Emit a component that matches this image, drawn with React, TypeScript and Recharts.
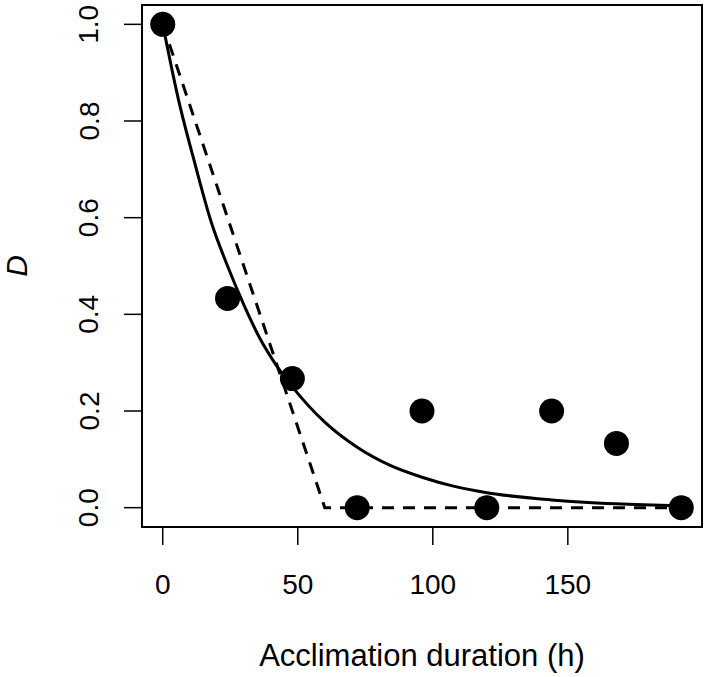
import React from "react";
import {
  ComposedChart,
  Line,
  Scatter,
  XAxis,
  YAxis,
  ReferenceArea,
} from "recharts";

// Observed data
const hours = [0, 24, 48, 72, 96, 120, 144, 168, 192];
const dValues = [1.0, 0.433, 0.267, 0, 0.2, 0, 0.2, 0.133, 0];

// Solid fitted curve
const curveHours = [0, 6, 12, 18, 24, 30, 36, 42, 48, 60, 72, 84, 96, 108, 120, 144, 168, 192];
const curveValues = [1.0, 0.84, 0.71, 0.59, 0.5, 0.42, 0.35, 0.295, 0.25, 0.177, 0.125, 0.088, 0.063, 0.044, 0.031, 0.016, 0.008, 0.004];

// Dashed fitted line
const dashHours = [0, 60, 192];
const dashValues = [1.0, 0, 0];

const xTicks = [0, 50, 100, 150];
const yTicks = [0, 0.2, 0.4, 0.6, 0.8, 1.0];

const xTitle = "Acclimation duration (h)";
const yTitle = "D";

const xDomain = [-7.68, 199.68];
const yDomain = [-0.04, 1.04];

const points = hours.map((h, i) => ({ x: h, y: dValues[i] }));
const curve = curveHours.map((h, i) => ({ x: h, y: curveValues[i] }));
const dash = dashHours.map((h, i) => ({ x: h, y: dashValues[i] }));

const FONT = "'Liberation Sans', Arial, sans-serif";

const XTick = (props: any) => {
  const { x, y, payload } = props;
  return (
    <text
      x={x}
      y={y + 37}
      textAnchor="middle"
      dominantBaseline="central"
      fontSize={28}
      fontFamily={FONT}
      fill="#000"
    >
      {payload.value}
    </text>
  );
};

const YTick = (props: any) => {
  const { x, y, payload } = props;
  const cx = x - 33;
  return (
    <text
      x={cx}
      y={y}
      transform={`rotate(-90, ${cx}, ${y})`}
      textAnchor="middle"
      dominantBaseline="central"
      fontSize={28}
      fontFamily={FONT}
      fill="#000"
    >
      {Number(payload.value).toFixed(1)}
    </text>
  );
};

const XTitle = (props: any) => {
  const vb = props.viewBox || {};
  const cx = vb.x + vb.width / 2;
  const by = vb.y + 139;
  return (
    <text
      x={cx}
      y={by}
      textAnchor="middle"
      fontSize={31}
      fontFamily={FONT}
      fill="#000"
    >
      {xTitle}
    </text>
  );
};

const YTitle = (props: any) => {
  const vb = props.viewBox || {};
  const cx = vb.x + 16;
  const cy = vb.y + vb.height / 2;
  return (
    <text
      x={cx}
      y={cy}
      transform={`rotate(-90, ${cx}, ${cy})`}
      textAnchor="middle"
      dominantBaseline="central"
      fontSize={30}
      fontStyle="italic"
      fontFamily={FONT}
      fill="#000"
    >
      {yTitle}
    </text>
  );
};

const Dot = (props: any) => (
  <circle cx={props.cx} cy={props.cy} r={12.5} fill="#000" />
);

export default function App() {
  return (
    <div style={{ position: "absolute", left: 0, top: 0, background: "#fff" }}>
      <ComposedChart
        width={709}
        height={677}
        margin={{ top: 5, right: 7, left: 0, bottom: 0 }}
      >
        <XAxis
          type="number"
          dataKey="x"
          domain={xDomain}
          ticks={xTicks}
          allowDataOverflow
          axisLine={false}
          tickLine={{ stroke: "#000", strokeWidth: 1.5 }}
          tickSize={18}
          tick={<XTick />}
          height={150}
          label={{ content: <XTitle /> }}
        />
        <YAxis
          type="number"
          dataKey="y"
          domain={yDomain}
          ticks={yTicks}
          allowDataOverflow
          axisLine={false}
          tickLine={{ stroke: "#000", strokeWidth: 1.5 }}
          tickSize={18}
          tick={<YTick />}
          width={142}
          label={{ content: <YTitle /> }}
        />
        <ReferenceArea
          x1={xDomain[0]}
          x2={xDomain[1]}
          y1={yDomain[0]}
          y2={yDomain[1]}
          fill="none"
          stroke="#000"
          strokeWidth={2}
          ifOverflow="visible"
        />
        <Line
          data={curve}
          dataKey="y"
          type="monotone"
          stroke="#000"
          strokeWidth={3}
          dot={false}
          isAnimationActive={false}
        />
        <Line
          data={dash}
          dataKey="y"
          type="linear"
          stroke="#000"
          strokeWidth={3}
          strokeDasharray="12 9"
          dot={false}
          isAnimationActive={false}
        />
        <Scatter
          data={points}
          dataKey="y"
          shape={<Dot />}
          isAnimationActive={false}
        />
      </ComposedChart>
    </div>
  );
}
